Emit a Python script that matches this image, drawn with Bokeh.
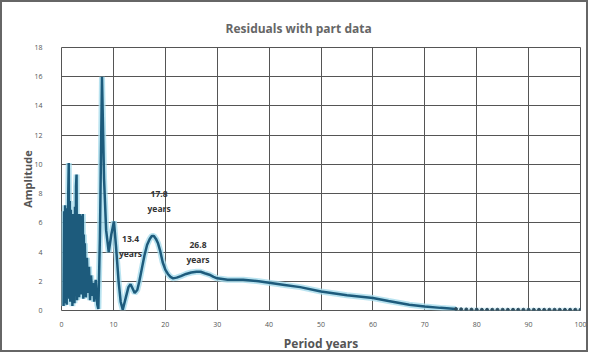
from bokeh.plotting import figure
from bokeh.models import ColumnDataSource, FixedTicker, Range1d
from bokeh.core.properties import value
from bokeh.embed import file_html
from bokeh.resources import INLINE

# ---- data ----
period = [0.4, 0.5, 0.6, 0.7, 0.8, 0.9, 1.0, 1.1, 1.2, 1.3, 1.4, 1.5, 1.6, 1.7, 1.8, 1.9,
          2.0, 2.1, 2.2, 2.3, 2.4, 2.5, 2.6, 2.7, 2.8, 2.9, 3.0, 3.1, 3.2, 3.3, 3.4, 3.5,
          3.6, 3.7, 3.8, 3.9, 4.0, 4.1, 4.2, 4.3, 4.4, 4.5, 4.7, 4.9, 5.1, 5.3, 5.5, 5.7,
          5.9, 6.1, 6.3, 6.6, 6.9, 7.1, 7.4, 7.8, 8.2, 8.6, 9.1, 9.6, 10.1, 10.5, 11.0,
          11.4, 11.8, 12.4, 12.9, 13.3, 13.7, 14.1, 14.6, 15.0, 15.5, 16.0, 16.5, 17.0,
          17.4, 17.8, 18.2, 18.6, 19.0, 19.5, 20.0, 20.5, 21.0, 21.5, 22.2, 23.0, 24.0,
          25.0, 26.0, 26.8, 27.6, 28.5, 29.3, 30.0, 31.0, 32.0, 33.5, 35.0, 36.5, 38.0,
          40.0, 43.0, 46.0, 50.0, 55.0, 60.0, 63.0, 67.0, 70.0, 73.0, 76.0]
amplitude = [0.3, 6.8, 0.5, 7.2, 1.0, 6.5, 0.4, 7.0, 1.2, 8.0, 10.1, 0.8, 7.5, 0.6, 6.9, 1.5,
             6.2, 0.3, 6.6, 1.8, 5.9, 0.5, 7.1, 1.0, 8.5, 9.3, 0.7, 6.6, 1.4, 6.4, 0.9, 6.6,
             2.0, 6.5, 1.1, 6.3, 1.6, 6.6, 0.8, 5.2, 1.5, 4.6, 0.9, 3.6, 1.2, 3.0, 0.7, 2.4,
             1.0, 1.9, 0.6, 2.1, 0.4, 0.1, 5.0, 16.0, 9.0, 5.5, 4.0, 5.2, 6.1, 4.4, 2.0,
             0.6, 0.05, 0.9, 1.6, 1.8, 1.5, 1.2, 1.4, 2.0, 2.9, 3.8, 4.5, 4.9,
             5.1, 5.1, 4.9, 4.6, 4.1, 3.3, 2.8, 2.5, 2.3, 2.2, 2.25, 2.35, 2.5,
             2.6, 2.65, 2.65, 2.55, 2.45, 2.3, 2.2, 2.15, 2.1, 2.1, 2.1, 2.05, 2.0,
             1.9, 1.75, 1.6, 1.3, 1.05, 0.85, 0.65, 0.4, 0.28, 0.18, 0.1]

tail_period = [76, 77, 78, 79, 80, 81, 82, 83, 84, 85, 86, 87, 88, 89, 90, 91, 92, 93,
               94, 95, 96, 97, 98, 99, 100]
tail_amplitude = [0.1, 0.08, 0.07, 0.06, 0.06, 0.05, 0.05, 0.05, 0.05, 0.05, 0.05, 0.05,
                  0.05, 0.05, 0.05, 0.05, 0.05, 0.05, 0.05, 0.05, 0.05, 0.05, 0.05, 0.05, 0.05]

ann_x = [13.3, 13.3, 18.8, 18.8, 26.3, 26.3]
ann_y = [4.9, 3.9, 8.0, 7.0, 4.5, 3.5]
ann_text = ["13.4", "years", "17.8", "years", "26.8", "years"]

x_ticks = [0, 10, 20, 30, 40, 50, 60, 70, 80, 90, 100]
y_ticks = [0, 2, 4, 6, 8, 10, 12, 14, 16, 18]

FONT = "Open Sans"
DARK = "#1d5b7c"
GLOW = "#a8dcec"

p = figure(width=588, height=352, output_backend="svg", toolbar_location=None,
           x_range=Range1d(0, 100), y_range=Range1d(0, 18),
           min_border_left=59, min_border_right=10, min_border_top=45, min_border_bottom=37,
           title="Residuals with part data")
p.styles = {"border": "2px solid #666666", "box-sizing": "border-box"}

p.title.align = "left"
p.title.offset = 164
p.title.text_font = FONT
p.title.text_font_size = "12px"
p.title.text_font_style = "bold"
p.title.text_color = "#666666"
p.title.standoff = 22

p.outline_line_color = "#555555"
p.outline_line_width = 1

for ax in (p.xaxis[0], p.yaxis[0]):
    ax.axis_line_color = None
    ax.major_tick_line_color = None
    ax.minor_tick_line_color = None
    ax.major_label_text_font = FONT
    ax.major_label_text_font_size = "7px"
    ax.major_label_text_color = "#555555"
    ax.axis_label_text_font = FONT
    ax.axis_label_text_font_style = "bold"
    ax.axis_label_text_color = "#555555"

p.xaxis.ticker = FixedTicker(ticks=x_ticks)
p.yaxis.ticker = FixedTicker(ticks=y_ticks)
p.xaxis.major_label_standoff = 5
p.yaxis.major_label_standoff = 13
p.xaxis.axis_label = "Period years"
p.xaxis.axis_label_text_font_size = "12px"
p.xaxis.axis_label_standoff = 5
p.yaxis.axis_label = "Amplitude"
p.yaxis.axis_label_text_font_size = "11px"
p.yaxis.axis_label_standoff = -4

p.xgrid.grid_line_color = "#555555"
p.ygrid.grid_line_color = "#555555"
p.xgrid.grid_line_width = 1
p.ygrid.grid_line_width = 1

src = ColumnDataSource(dict(x=period, y=amplitude))
p.line("x", "y", source=src, line_color=GLOW, line_width=6, line_alpha=0.8)
p.line("x", "y", source=src, line_color=DARK, line_width=2.5)

tail = ColumnDataSource(dict(x=tail_period, y=tail_amplitude))
p.line("x", "y", source=tail, line_color=GLOW, line_width=4, line_alpha=0.5)
p.scatter("x", "y", source=tail, size=3, color="#2e4e60")

ann = ColumnDataSource(dict(x=ann_x, y=ann_y, t=ann_text))
p.text("x", "y", text="t", source=ann, text_font=value(FONT), text_font_size="8.5px",
       text_font_style="bold", text_color="#333333", text_align="center",
       text_baseline="middle")

open("out.html", "w").write(file_html(p, INLINE))
